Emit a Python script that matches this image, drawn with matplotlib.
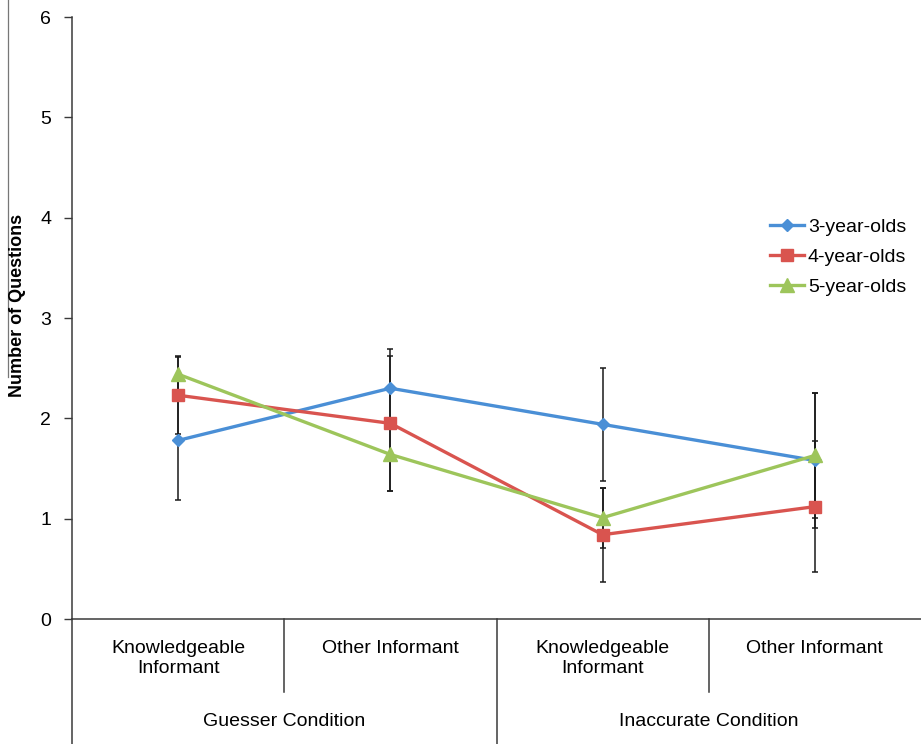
import matplotlib
matplotlib.use("Agg")
import matplotlib.pyplot as plt
import numpy as np

plt.rcParams['font.family'] = ['Liberation Sans', 'DejaVu Sans']

# informant / condition groups along the x axis
informants = ["Knowledgeable\nInformant", "Other Informant",
              "Knowledgeable\nInformant", "Other Informant"]
conditions = ["Guesser Condition", "Inaccurate Condition"]

# mean number of questions and error bar half-widths per age group
age_groups = ["3-year-olds", "4-year-olds", "5-year-olds"]
means_3 = [1.78, 2.30, 1.94, 1.58]
means_4 = [2.23, 1.95, 0.84, 1.12]
means_5 = [2.44, 1.64, 1.01, 1.63]
err_3 = [0.59, 0.39, 0.56, 0.67]
err_4 = [0.39, 0.67, 0.47, 0.65]
err_5 = [0.17, 0.36, 0.30, 0.62]

colors = ['#4A8FD6', '#D9544F', '#9DC55B']
markers = ['D', 's', '^']
msizes = [6.5, 9, 9.5]
axis_col = '#3a3a3a'
fs = 14

fig = plt.figure(figsize=(9.21, 7.44), dpi=100)
ax = fig.add_axes([72/921, 1 - 619/744, 849/921, 602/744])

x = np.arange(len(informants))
for means, errs, c, m, ms, lab in zip([means_3, means_4, means_5],
                                      [err_3, err_4, err_5],
                                      colors, markers, msizes, age_groups):
    ax.errorbar(x, means, yerr=errs, fmt='none', ecolor='#1a1a1a',
                elinewidth=1.1, capsize=2.3, capthick=1.1, zorder=2)
    ax.plot(x, means, color=c, marker=m, markersize=ms, linewidth=2.4,
            label=lab, zorder=3)

ax.set_xlim(-0.5, 3.5)
ax.set_ylim(0, 6)
ax.set_yticks(range(0, 7))
ax.tick_params(axis='y', direction='out', length=6, width=1.0,
               color=axis_col, labelsize=fs, pad=9)
ax.set_xticks([])
for s in ['top', 'right']:
    ax.spines[s].set_visible(False)
for s in ['left', 'bottom']:
    ax.spines[s].set_color(axis_col)
    ax.spines[s].set_linewidth(1.1)

# two-level category axis below the plot
trans = ax.get_xaxis_transform()
low_sep = (619 - 692) / 602
bottom = (619 - 744) / 602
ax.plot([-0.5, -0.5], [0, bottom], color=axis_col, lw=1.1,
        transform=trans, clip_on=False)
ax.plot([1.5, 1.5], [0, bottom], color=axis_col, lw=1.1,
        transform=trans, clip_on=False)
for xs in [0.5, 2.5]:
    ax.plot([xs, xs], [0, low_sep], color=axis_col, lw=1.1,
            transform=trans, clip_on=False)

for i, lab in enumerate(informants):
    ax.text(i, (619 - 640) / 602, lab, transform=trans, ha='center',
            va='top', fontsize=fs, linespacing=1.2)
for j, lab in enumerate(conditions):
    ax.text(0.5 + 2 * j, (619 - 722) / 602, lab, transform=trans,
            ha='center', va='center', fontsize=fs)

fig.text(17/921, 1 - 305/744, "Number of Questions", rotation=90,
         ha='center', va='center', fontsize=13, fontweight='bold')
fig.add_artist(plt.Line2D([8/921, 8/921], [1.0, 1 - 377/744],
                          color='#777777', lw=0.9))

ax.legend(loc='center left', bbox_to_anchor=(770/921, 1 - 257/744),
          bbox_transform=fig.transFigure, frameon=False, fontsize=fs,
          handlelength=1.75, handletextpad=0.2, labelspacing=0.65,
          borderaxespad=0, borderpad=0)

fig.savefig('out.png', dpi=100)
